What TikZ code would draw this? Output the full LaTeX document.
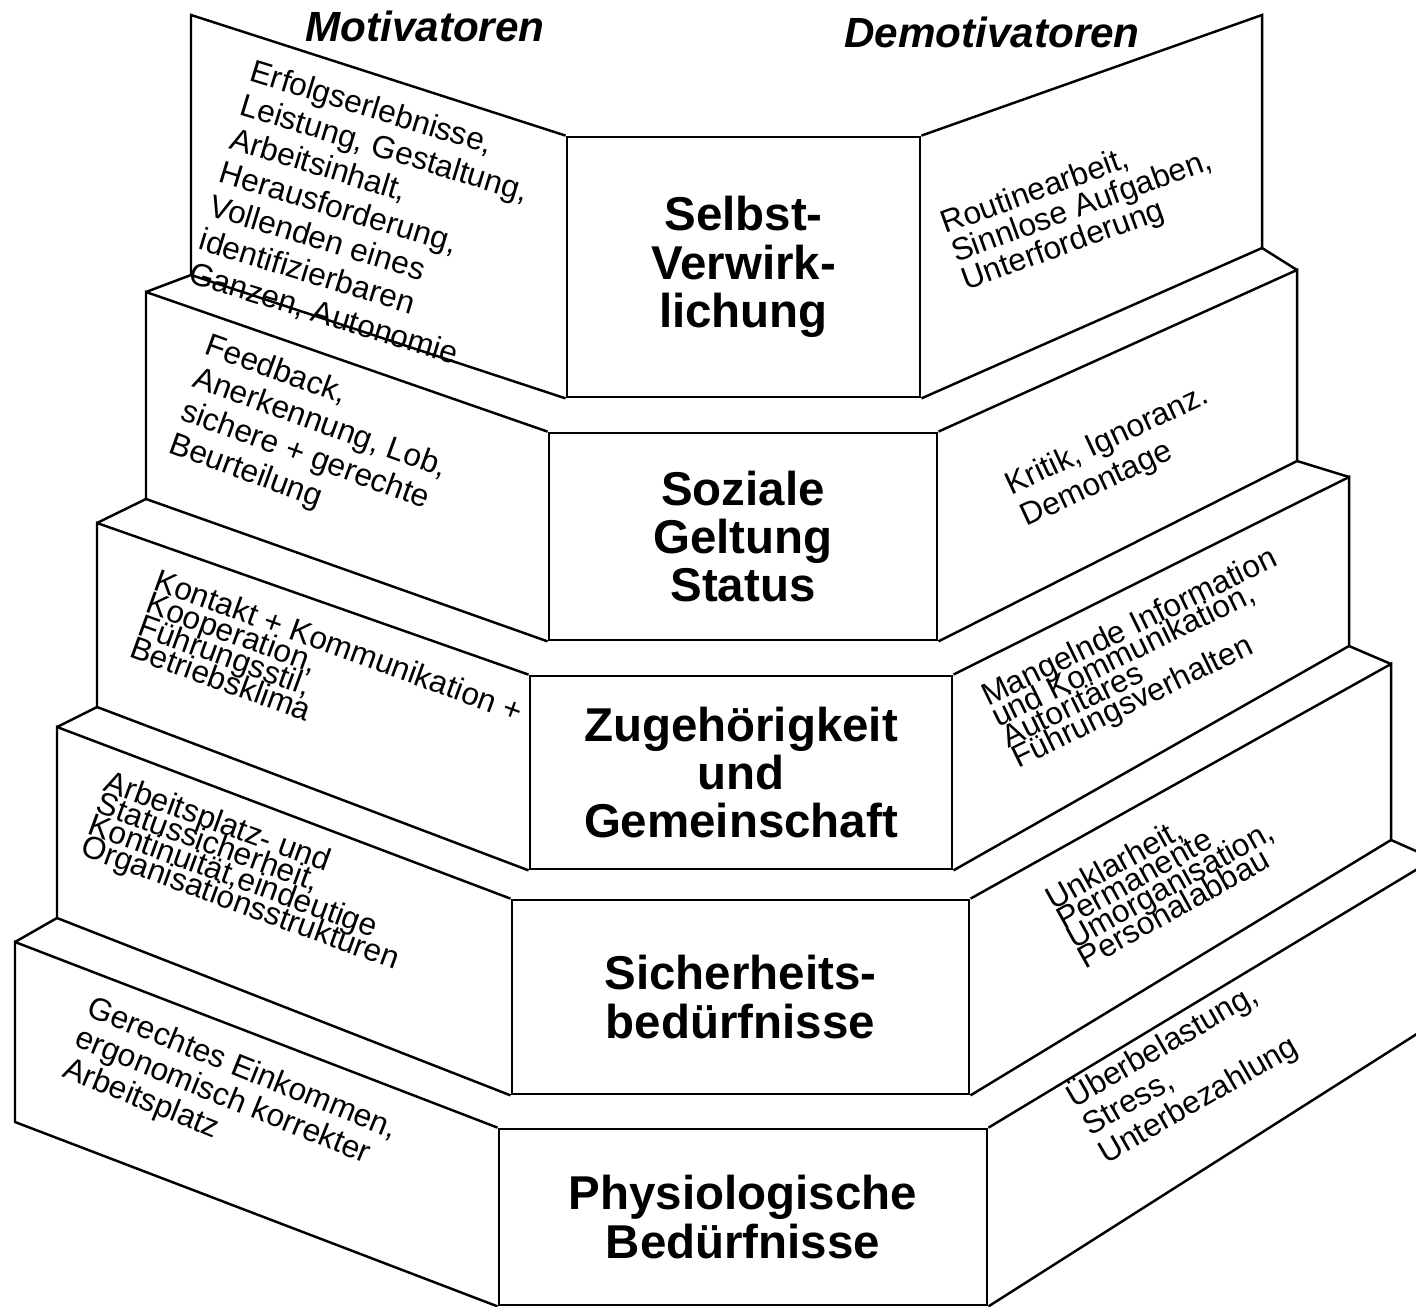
\documentclass[tikz,border=0pt]{standalone}
\usepackage{fontspec}
\setmainfont{Liberation Sans}
% allow the lines of a note to overlap when the line pitch is tight
\newcommand\engzeilen{\lineskiplimit=-\maxdimen\relax\lineskip=0pt\relax}
\begin{document}
\begin{tikzpicture}[x=0.01cm,y=-0.01cm,
  kante/.style={line width=0.7pt, line join=miter},
  stufe/.style={draw, line width=0.75pt, align=center, inner sep=0pt,
    font=\fontsize{13.5}{13.7}\selectfont\bfseries},
  notiz/.style={inner sep=0pt, align=left, anchor=north west,
    font=\engzeilen\fontsize{9}{#1}\selectfont},
  titel/.style={inner sep=0pt, anchor=base,
    font=\fontsize{12}{14}\selectfont\bfseries\itshape}]

\path[use as bounding box] (0,0) rectangle (1416,1307);
\fill[white] (0,0) rectangle (1416,1307);
\clip (0,0) rectangle (1416,1307);

% front faces of the five levels
\node[stufe, minimum width=3.53cm, minimum height=2.60cm] (b1) at (743.5,267)
  {Selbst-\\Verwirk-\\lichung};
\node[stufe, minimum width=3.88cm, minimum height=2.07cm] (b2) at (743,536.5)
  {Soziale\\Geltung\\Status};
\node[stufe, minimum width=4.22cm, minimum height=1.93cm] (b3) at (741,772.5)
  {Zugehörigkeit\\und\\Gemeinschaft};
\node[stufe, minimum width=4.57cm, minimum height=1.94cm] (b4) at (740.5,997)
  {Sicherheits-\\bedürfnisse};
\node[stufe, minimum width=4.88cm, minimum height=1.76cm] (b5) at (743,1217)
  {Physiologische\\Bedürfnisse};

% outer corners of the side faces
\coordinate (l1o) at (191,15);   \coordinate (l1u) at (191,275);
\coordinate (r1o) at (1262,15);  \coordinate (r1u) at (1262,248);
\coordinate (l2o) at (146,292);  \coordinate (l2u) at (146,499);
\coordinate (r2o) at (1297,270); \coordinate (r2u) at (1297,461);
\coordinate (l3o) at (97,523);   \coordinate (l3u) at (97,707);
\coordinate (r3o) at (1349,477); \coordinate (r3u) at (1349,646);
\coordinate (l4o) at (57,727);   \coordinate (l4u) at (57,918);
\coordinate (r4o) at (1391,664); \coordinate (r4u) at (1391,840);
\coordinate (l5o) at (15,942);   \coordinate (l5u) at (15,1122);
\coordinate (r5o) at (1434,859); \coordinate (r5u) at (1434,1023);

% side faces
\foreach \i in {1,...,5}{
  \draw[kante] (b\i.north west) -- (l\i o) -- (l\i u) -- (b\i.south west);
  \draw[kante] (b\i.north east) -- (r\i o) -- (r\i u) -- (b\i.south east);
}
% short edges from one level down to the next
\foreach \i/\j in {1/2,2/3,3/4,4/5}{
  \draw[kante] (l\i u) -- (l\j o);
  \draw[kante] (r\i u) -- (r\j o);
}

% column headings
\node[titel] (mot) at (425,42) {Motivatoren};
\node[titel] (demot) at (992,48) {Demotivatoren};

% motivators (left faces)
\node[notiz=10, rotate=-17] (m1) at (255,58)
  {Erfolgserlebnisse,\\Leistung, Gestaltung,\\Arbeitsinhalt,\\Herausforderung,\\Vollenden eines\\identifizierbaren\\Ganzen, Autonomie};
\node[notiz=10, rotate=-20] (m2) at (211,331)
  {Feedback,\\Anerkennung, Lob,\\sichere + gerechte\\Beurteilung};
\node[notiz=6.8, rotate=-20] (m3) at (160,567)
  {Kontakt + Kommunikation +\\Kooperation,\\Führungsstil,\\Betriebsklima};
\node[notiz=6.5, rotate=-20] (m4) at (110,768)
  {Arbeitsplatz- und\\Statussicherheit,\\Kontinuität,eindeutige\\Organisationsstrukturen};
\node[notiz=9.4, rotate=-22] (m5) at (94,993)
  {Gerechtes Einkommen,\\ergonomisch korrekter\\Arbeitsplatz};

% demotivators (right faces)
\node[notiz=8.6, rotate=20] (d1) at (937,212)
  {Routinearbeit,\\Sinnlose Aufgaben,\\Unterforderung};
\node[notiz=10, rotate=25] (d2) at (1001,474)
  {Kritik, Ignoranz.\\Demontage};
\node[notiz=6.5, rotate=26] (d3) at (977,686)
  {Mangelnde Information\\und Kommunikation,\\Autoritäres\\Führungsverhalten};
\node[notiz=6.4, rotate=29] (d4) at (1041,890)
  {Unklarheit,\\Permanente\\Umorganisation,\\Personalabbau};
\node[notiz=9.2, rotate=30] (d5) at (1060,1085)
  {Überbelastung,\\Stress,\\Unterbezahlung};

\end{tikzpicture}
\end{document}
